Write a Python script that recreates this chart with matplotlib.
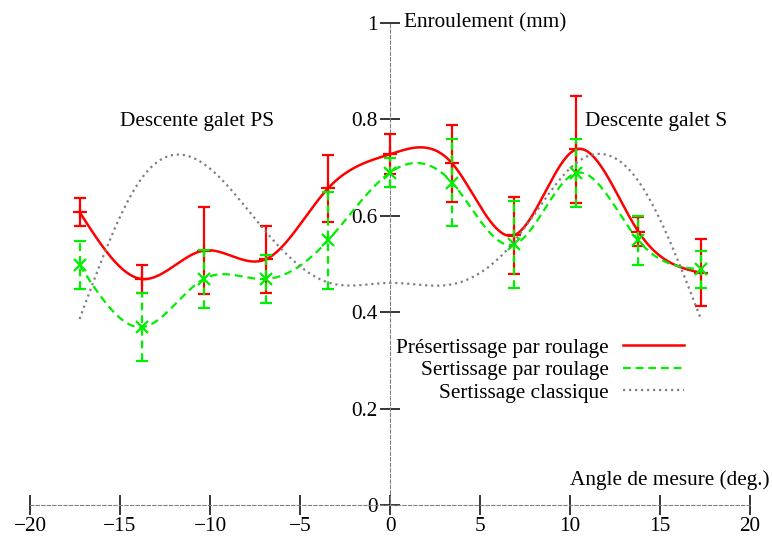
import numpy as np
import matplotlib
matplotlib.use("Agg")
import matplotlib.pyplot as plt

plt.rcParams['font.family'] = ['Liberation Serif', 'DejaVu Serif']

# angle de mesure (deg.)
angles = [-17.25, -13.8, -10.35, -6.9, -3.45, 0.0, 3.45, 6.9, 10.35, 13.8, 17.25]

# Présertissage par roulage
pres_val = [0.608, 0.469, 0.528, 0.510, 0.657, 0.728, 0.709, 0.560, 0.738, 0.567, 0.482]
pres_err = [0.030, 0.030, 0.090, 0.070, 0.070, 0.042, 0.080, 0.080, 0.111, 0.030, 0.070]

# Sertissage par roulage
sert_val = [0.498, 0.369, 0.469, 0.469, 0.549, 0.690, 0.669, 0.541, 0.689, 0.549, 0.489]
sert_err = [0.050, 0.070, 0.060, 0.050, 0.100, 0.030, 0.090, 0.090, 0.070, 0.050, 0.039]

# Sertissage classique
clas_val = [0.386, 0.678, 0.708, 0.567, 0.462, 0.461, 0.458, 0.547, 0.710, 0.672, 0.388]

xticks = [-20, -15, -10, -5, 0, 5, 10, 15, 20]
xticklabels = ['\u221220', '\u221215', '\u221210', '\u22125', '0', '5', '10', '15', '20']
yticks = [0, 0.2, 0.4, 0.6, 0.8, 1.0]
yticklabels = ['0', '0.2', '0.4', '0.6', '0.8', '1']


def csplines(x, y, n=400):
    # natural cubic spline, like gnuplot "smooth csplines"
    x = np.asarray(x, float)
    y = np.asarray(y, float)
    h = np.diff(x)
    m = len(x)
    A = np.zeros((m, m))
    b = np.zeros(m)
    A[0, 0] = A[-1, -1] = 1
    for i in range(1, m - 1):
        A[i, i - 1] = h[i - 1]
        A[i, i] = 2 * (h[i - 1] + h[i])
        A[i, i + 1] = h[i]
        b[i] = 6 * ((y[i + 1] - y[i]) / h[i] - (y[i] - y[i - 1]) / h[i - 1])
    M = np.linalg.solve(A, b)
    xs = np.linspace(x[0], x[-1], n)
    k = np.clip(np.searchsorted(x, xs) - 1, 0, m - 2)
    hh = x[k + 1] - x[k]
    t0 = x[k + 1] - xs
    t1 = xs - x[k]
    ys = (M[k] * t0**3 + M[k + 1] * t1**3) / (6 * hh) \
        + (y[k] / hh - M[k] * hh / 6) * t0 + (y[k + 1] / hh - M[k + 1] * hh / 6) * t1
    return xs, ys


fs = 15.3
fig = plt.figure(figsize=(7.72, 5.47), dpi=100)
ax = fig.add_axes([0, 0, 1, 1])
ax.set_xlim(-21.67, 21.22)
ax.set_ylim(-0.0872, 1.048)
ax.patch.set_visible(False)

red = '#ff0000'
green = '#00ee00'
grey = '#808080'

# red: présertissage
eb = ax.errorbar(angles, pres_val, yerr=pres_err, fmt='+', color=red, ms=10, mew=1.6,
                 elinewidth=1.6, capsize=4, capthick=1.6, zorder=3)
xs, ys = csplines(angles, pres_val)
ax.plot(xs, ys, color=red, lw=1.8, zorder=3, label='Présertissage par roulage')

# green: sertissage par roulage
eb2 = ax.errorbar(angles, sert_val, yerr=sert_err, fmt='x', color=green, ms=8, mew=1.6,
                  elinewidth=1.6, capsize=4, capthick=1.6, zorder=4)
for lc in eb2[2]:
    lc.set_linestyle((0, (3.5, 2.2)))
xs, ys = csplines(angles, sert_val)
ax.plot(xs, ys, color=green, lw=1.6, ls=(0, (3.5, 2.2)), zorder=4,
        label='Sertissage par roulage')

# grey: sertissage classique
xs, ys = csplines(angles, clas_val)
ax.plot(xs, ys, color=grey, lw=1.6, ls=(0, (1, 1.7)), zorder=5,
        label='Sertissage classique')

# zero axes
for side in ['top', 'right']:
    ax.spines[side].set_visible(False)
ax.spines['bottom'].set_position('zero')
ax.spines['left'].set_position('zero')
ax.spines['bottom'].set_bounds(-20, 20)
ax.spines['left'].set_bounds(0, 1)
ax.spines['bottom'].set_color(grey)
ax.spines['left'].set_color(grey)
ax.spines['bottom'].set_linestyle((0, (3, 2)))
ax.spines['left'].set_linestyle((0, (3, 2)))
ax.spines['bottom'].set_linewidth(0.8)
ax.spines['left'].set_linewidth(0.8)

ax.set_xticks(xticks)
ax.set_xticklabels(xticklabels)
ax.set_yticks(yticks)
ax.set_yticklabels(yticklabels)
ax.tick_params(axis='both', direction='inout', length=15, width=1.1, color='black',
               labelsize=fs, pad=1.5)

ax.text(0.78, 1.0, 'Enroulement (mm)', fontsize=fs, ha='left', va='center')
ax.text(21.1, 0.052, 'Angle de mesure (deg.)', fontsize=fs, ha='right', va='center')
ax.text(-10.72, 0.795, 'Descente galet PS', fontsize=fs, ha='center', va='center')
ax.text(14.8, 0.795, 'Descente galet S', fontsize=fs, ha='center', va='center')

ax.legend(loc='upper right', bbox_to_anchor=(684 / 772, 1 - 338 / 547), frameon=False,
          markerfirst=False, fontsize=fs, handlelength=2.87, handletextpad=0.66,
          labelspacing=0.12, borderpad=0, borderaxespad=0)

fig.savefig('out.png', dpi=100)
